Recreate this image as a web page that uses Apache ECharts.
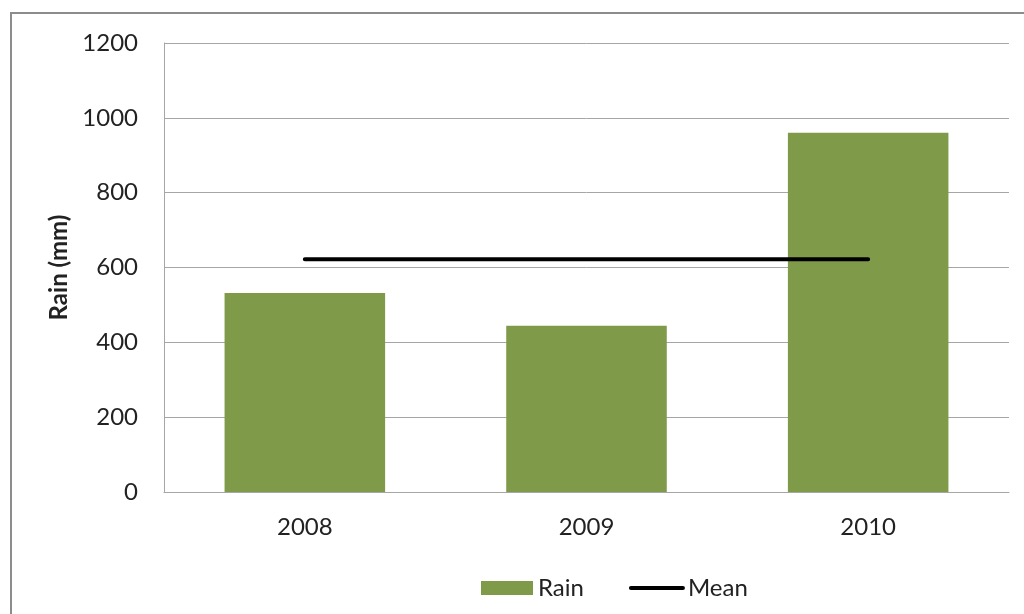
<!DOCTYPE html>
<html>
<head>
<meta charset="utf-8">
<script src="https://cdn.jsdelivr.net/npm/echarts@6/dist/echarts.min.js"></script>
<style>
  html, body { margin: 0; padding: 0; background: #fff; }
  #chart { width: 1024px; height: 614px; }
</style>
</head>
<body>
<div id="chart"></div>
<script>
// values
const years = ['2008', '2009', '2010'];
const rain = [532, 444, 960];
const mean = [622, 622, 622];
const yTicks = { min: 0, max: 1200, step: 200 };

const myChart = echarts.init(document.getElementById('chart'));
const font = 'Lato, "Liberation Sans", sans-serif';

const option = {
  animation: false,
  backgroundColor: '#fff',
  textStyle: { fontFamily: font },
  // outer chart frame, runs off the right and bottom edges
  graphic: [{
    type: 'rect',
    shape: { x: 11, y: 13, width: 1200, height: 800 },
    style: { fill: 'none', stroke: '#8c8c8c', lineWidth: 2 },
    silent: true
  }],
  grid: { left: 164, top: 43, width: 845, height: 449 },
  legend: {
    left: 476,
    top: 571,
    itemWidth: 52,
    itemHeight: 14,
    itemGap: 45,
    textStyle: { fontSize: 24, color: '#222' },
    data: [
      { name: 'Rain', icon: 'rect' },
      {
        name: 'Mean',
        itemStyle: { opacity: 0 },
        lineStyle: { color: '#000', width: 4, cap: 'round' }
      }
    ]
  },
  xAxis: {
    type: 'category',
    data: years,
    boundaryGap: true,
    axisTick: { show: false },
    axisLine: { lineStyle: { color: '#a6a6a6', width: 1 } },
    axisLabel: { fontSize: 24, color: '#222', margin: 23 }
  },
  yAxis: {
    type: 'value',
    min: yTicks.min,
    max: yTicks.max,
    interval: yTicks.step,
    name: 'Rain (mm)',
    nameLocation: 'middle',
    nameRotate: 90,
    nameGap: 88,
    nameTextStyle: { fontSize: 24, fontWeight: 'bold', color: '#222' },
    axisLine: { show: true, lineStyle: { color: '#a6a6a6', width: 1 } },
    axisTick: { show: false },
    splitLine: { lineStyle: { color: '#a6a6a6', width: 1 } },
    axisLabel: {
      fontSize: 24,
      color: '#222',
      margin: 26,
      formatter: function (value) {
        return String(value);
      }
    }
  },
  series: [
    {
      name: 'Rain',
      type: 'bar',
      data: rain,
      barWidth: '57%',
      itemStyle: { color: '#7f9b4a' }
    },
    {
      name: 'Mean',
      type: 'line',
      data: mean,
      symbol: 'none',
      lineStyle: { color: '#000', width: 4, cap: 'round' },
      itemStyle: { color: '#000' }
    }
  ]
};

myChart.setOption(option);
</script>
</body>
</html>
